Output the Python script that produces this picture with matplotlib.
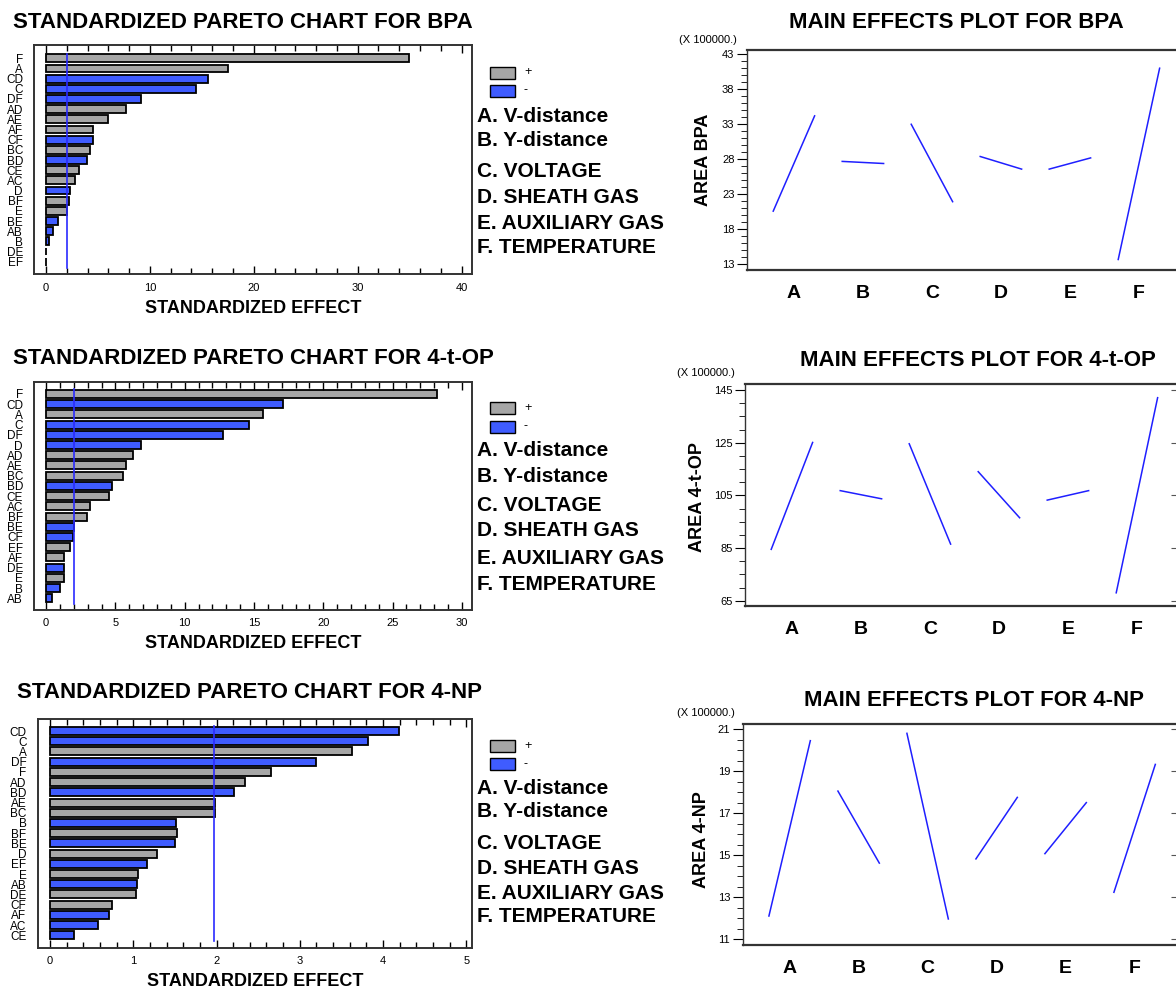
import matplotlib
matplotlib.use("Agg")
import matplotlib.pyplot as plt
from matplotlib.ticker import MultipleLocator
from matplotlib.patches import Rectangle

plt.rcParams['font.family'] = ['Liberation Sans', 'DejaVu Sans']

W, H = 1176, 994

# ---- data: standardized pareto charts ----
bpa_terms = ['F', 'A', 'CD', 'C', 'DF', 'AD', 'AE', 'AF', 'CF', 'BC', 'BD',
             'CE', 'AC', 'D', 'BF', 'E', 'BE', 'AB', 'B', 'DE', 'EF']
bpa_effect = [34.98, 17.52, 15.62, 14.43, 9.18, 7.73, 5.96, 4.48, 4.48, 4.19, 3.93,
              3.16, 2.74, 2.32, 2.19, 2.0, 1.13, 0.71, 0.32, 0.03, 0.01]
bpa_sign = ['+', '+', '-', '-', '-', '+', '+', '+', '-', '+', '-',
            '+', '+', '-', '+', '+', '-', '-', '-', '+', '+']

top_terms = ['F', 'CD', 'A', 'C', 'DF', 'D', 'AD', 'AE', 'BC', 'BD', 'CE',
             'AC', 'BF', 'BE', 'CF', 'EF', 'AF', 'DE', 'E', 'B', 'AB']
top_effect = [28.24, 17.08, 15.65, 14.64, 12.8, 6.88, 6.28, 5.77, 5.56, 4.76, 4.57,
              3.14, 2.95, 1.98, 1.93, 1.74, 1.33, 1.33, 1.26, 1.04, 0.43]
top_sign = ['+', '-', '+', '-', '-', '-', '+', '+', '+', '-', '+',
            '+', '+', '-', '-', '+', '+', '-', '+', '-', '-']

np_terms = ['CD', 'C', 'A', 'DF', 'F', 'AD', 'BD', 'AE', 'BC', 'B', 'BF',
            'BE', 'D', 'EF', 'E', 'AB', 'DE', 'CF', 'AF', 'AC', 'CE']
np_effect = [4.19, 3.82, 3.63, 3.2, 2.66, 2.34, 2.21, 1.98, 1.98, 1.51, 1.52,
             1.5, 1.28, 1.16, 1.06, 1.05, 1.03, 0.74, 0.71, 0.57, 0.29]
np_sign = ['-', '-', '+', '-', '+', '+', '-', '+', '+', '-', '+',
           '-', '+', '-', '+', '-', '+', '+', '-', '-', '-']

crit_val = [2.06, 2.03, 1.97]

# ---- data: main effects (low, high) in units of 100000 ----
factors = ['A', 'B', 'C', 'D', 'E', 'F']
bpa_low = [20.6, 27.7, 33.0, 28.4, 26.6, 13.7]
bpa_high = [34.2, 27.4, 21.95, 26.6, 28.2, 41.0]
top_low = [84.5, 106.8, 124.6, 114.0, 103.2, 68.0]
top_high = [125.1, 103.7, 86.5, 96.5, 106.8, 142.1]
np_low = [12.11, 18.06, 20.81, 14.83, 15.08, 13.24]
np_high = [20.46, 14.63, 11.97, 17.76, 17.51, 19.33]

factor_names = ['A. V-distance', 'B. Y-distance', 'C. VOLTAGE',
                'D. SHEATH GAS', 'E. AUXILIARY GAS', 'F. TEMPERATURE']

GRAY = '#a6a6a6'
BLUE = '#3f5cff'
LINE = '#1f1fff'

fig = plt.figure(figsize=(W / 100, H / 100), dpi=100)
fig.patch.set_facecolor('white')


def box(x0, y0, x1, y1):
    return [x0 / W, 1 - y1 / H, (x1 - x0) / W, (y1 - y0) / H]


def ftext(x, y, s, **kw):
    fig.text(x / W, 1 - y / H, s, **kw)


def pareto(rect, terms, eff, sign, crit, xlim, major, minor, ylim, title, tpos,
           legend_y, text_x, text_y):
    ax = fig.add_axes(box(*rect))
    n = len(terms)
    cols = [GRAY if s == '+' else BLUE for s in sign]
    ax.barh(range(n), eff, height=0.78, color=cols, edgecolor='black', linewidth=1.3)
    ax.plot([crit, crit], [-0.45, n - 0.4], color='#2a2aff', lw=1.2)
    ax.set_xlim(*xlim)
    ax.set_ylim(n - 1 + ylim[1], -ylim[0])
    ax.set_yticks(range(n))
    ax.set_yticklabels(terms, fontsize=8.5)
    ax.tick_params(axis='y', length=0, pad=8)
    ax.xaxis.set_major_locator(MultipleLocator(major))
    ax.xaxis.set_minor_locator(MultipleLocator(minor))
    ax.tick_params(axis='x', which='both', direction='in', top=True, labelsize=8, pad=6)
    ax.tick_params(axis='x', which='major', length=6, width=1)
    ax.tick_params(axis='x', which='minor', length=4, width=1)
    for sp in ax.spines.values():
        sp.set_linewidth(1.4)
        sp.set_color('#333333')
    ax.set_xlabel('STANDARDIZED EFFECT', fontsize=13, fontweight='bold', labelpad=5)
    ftext(tpos[0], tpos[1], title, fontsize=16, fontweight='bold', va='center', ha='left')
    # legend boxes
    for k, (c, lab) in enumerate([(GRAY, '+'), (BLUE, '-')]):
        yy = legend_y[k]
        fig.patches.append(Rectangle((490 / W, 1 - (yy + 6) / H), 25 / W, 12 / H,
                                     transform=fig.transFigure, facecolor=c,
                                     edgecolor='black', linewidth=1.0))
        ftext(524, yy, lab, fontsize=9, va='center', ha='left')
    for name, yy in zip(factor_names, text_y):
        ftext(text_x, yy, name, fontsize=15, fontweight='bold', va='center', ha='left')
    return ax


def main_effects(rect, low, high, ylim, major, offset, minor, ylabel, title, tpos, ypos,
                 lpos, right_ticks):
    ax = fig.add_axes(box(*rect))
    for i in range(len(factors)):
        ax.plot([i - 0.3, i + 0.3], [low[i], high[i]], color=LINE, lw=1.1)
    # x limits in factor units, derived from the pixel frame
    ax.set_xlim(-0.68, -0.68 + (rect[2] - rect[0]) / 69.0)
    ax.set_ylim(*ylim)
    ax.yaxis.set_major_locator(MultipleLocator(major, offset=offset))
    ax.yaxis.set_minor_locator(MultipleLocator(minor))
    ax.set_xticks(range(len(factors)))
    ax.set_xticklabels(factors, fontsize=14, fontweight='bold')
    ax.tick_params(axis='x', length=0, pad=11)
    ax.tick_params(axis='y', which='major', direction='out', length=7, labelsize=8, pad=2)
    ax.tick_params(axis='y', which='minor', direction='out', length=4)
    ax.spines['left'].set_linewidth(1.0)
    ax.spines['top'].set_linewidth(1.6)
    ax.spines['bottom'].set_linewidth(1.6)
    for sp in ax.spines.values():
        sp.set_color('#333333')
    if right_ticks:
        sec = ax.secondary_yaxis('right')
        sec.yaxis.set_major_locator(MultipleLocator(major, offset=offset))
        sec.tick_params(direction='in', length=5, labelright=False, color='#555555')
    ftext(tpos[0], tpos[1], title, fontsize=16, fontweight='bold', va='center', ha='center')
    ftext(ypos[0], ypos[1], ylabel, fontsize=13, fontweight='bold', va='center',
          ha='center', rotation=90)
    ftext(lpos[0], lpos[1], '(X 100000.)', fontsize=8, va='center', ha='left')
    return ax


pareto((34, 45, 472, 274.3), bpa_terms, bpa_effect, bpa_sign, crit_val[0],
       (-1.16, 41.0), 10, 2, (1.31, 1.24), 'STANDARDIZED PARETO CHART FOR BPA', (13, 22),
       (72.5, 90.5), 477, [116.7, 141, 171.7, 197.7, 223.3, 247.7])
pareto((34, 381.7, 472, 610), top_terms, top_effect, top_sign, crit_val[1],
       (-0.87, 30.73), 5, 1, (1.2, 1.15), 'STANDARDIZED PARETO CHART FOR 4-t-OP',
       (13, 358), (408, 426.5), 477, [450, 476, 505, 531, 558, 584])
pareto((37.7, 719, 472, 947.7), np_terms, np_effect, np_sign, crit_val[2],
       (-0.149, 5.07), 1, 0.2, (1.18, 1.21), 'STANDARDIZED PARETO CHART FOR 4-NP',
       (17, 692), (746, 764), 477, [788.3, 811.7, 843.3, 868.3, 893.3, 916.7])

main_effects((747, 50, 1185, 270), bpa_low, bpa_high, (12.2, 43.6), 5, 3, 1,
             'AREA BPA', 'MAIN EFFECTS PLOT FOR BPA', (956.7, 22.7), (703, 160),
             (679, 40), False)
main_effects((745, 384, 1178, 605.7), top_low, top_high, (63.1, 147.3), 20, 5, 5,
             'AREA 4-t-OP', 'MAIN EFFECTS PLOT FOR 4-t-OP', (978.3, 360.7), (698, 497),
             (677, 373), True)
main_effects((742.7, 724.3, 1178, 945), np_low, np_high, (10.73, 21.24), 2, 1, 0.5,
             'AREA 4-NP', 'MAIN EFFECTS PLOT FOR 4-NP', (974.3, 700.7), (701.7, 840),
             (677, 713.3), True)

fig.savefig('out.png', dpi=100, facecolor='white')
